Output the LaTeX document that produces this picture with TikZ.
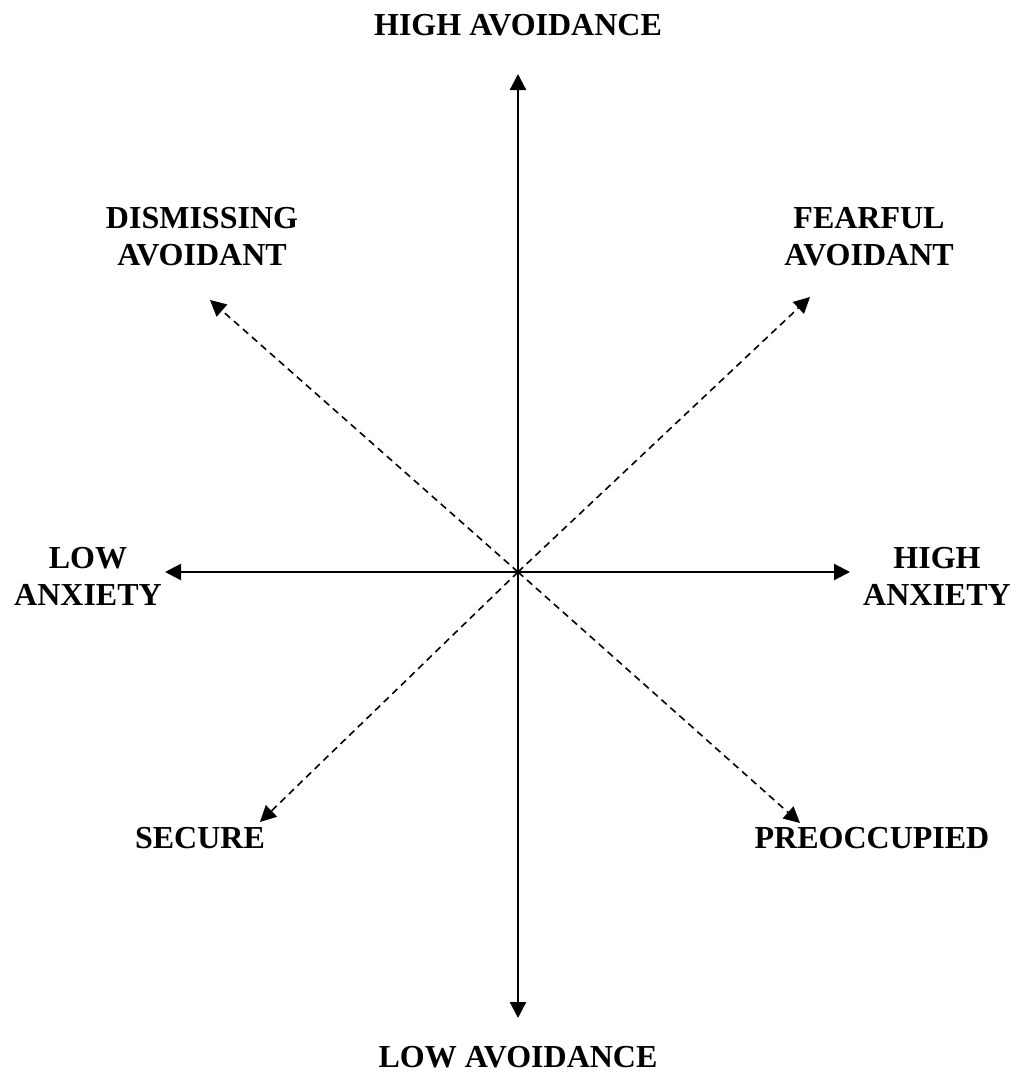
\documentclass[tikz,border=0pt]{standalone}
\usepackage{fontspec}
\setmainfont{Liberation Serif}
\usetikzlibrary{arrows.meta}
\begin{document}
\begin{tikzpicture}[x=1pt,y=-1pt,
  lbl/.style={font=\fontsize{32}{37}\selectfont\bfseries, align=center, inner sep=0pt},
  axis/.style={line width=2.2pt, {Triangle[length=16pt,width=16pt]}-{Triangle[length=16pt,width=16pt]}},
  diag/.style={line width=1.6pt, dash pattern=on 7pt off 5pt, -{Triangle[length=16pt,width=16pt]}}]
\useasboundingbox (0,0) rectangle (1016,1073);
\coordinate (c) at (518,572);
\coordinate (top) at (518,74);
\coordinate (bot) at (518,1018);
\coordinate (lft) at (165,572);
\coordinate (rgt) at (850,572);
\coordinate (ul) at (210,300);
\coordinate (ur) at (810,297);
\coordinate (ll) at (260,822);
\coordinate (lr) at (800,823);
\draw[axis] (top) -- (bot);
\draw[axis] (lft) -- (rgt);
\draw[diag] (c) -- (ul);
\draw[diag] (c) -- (ur);
\draw[diag] (c) -- (ll);
\draw[diag] (c) -- (lr);
\node[lbl] (ha) at (518,25) {HIGH AVOIDANCE};
\node[lbl] (la) at (518,1057) {LOW AVOIDANCE};
\node[lbl] (da) at (202,237) {DISMISSING\\AVOIDANT};
\node[lbl] (fa) at (869,237) {FEARFUL\\AVOIDANT};
\node[lbl] (lx) at (88,576) {LOW\\ANXIETY};
\node[lbl] (hx) at (937,576) {HIGH\\ANXIETY};
\node[lbl] (se) at (200,838) {SECURE};
\node[lbl] (pr) at (872,838) {PREOCCUPIED};
\end{tikzpicture}
\end{document}
